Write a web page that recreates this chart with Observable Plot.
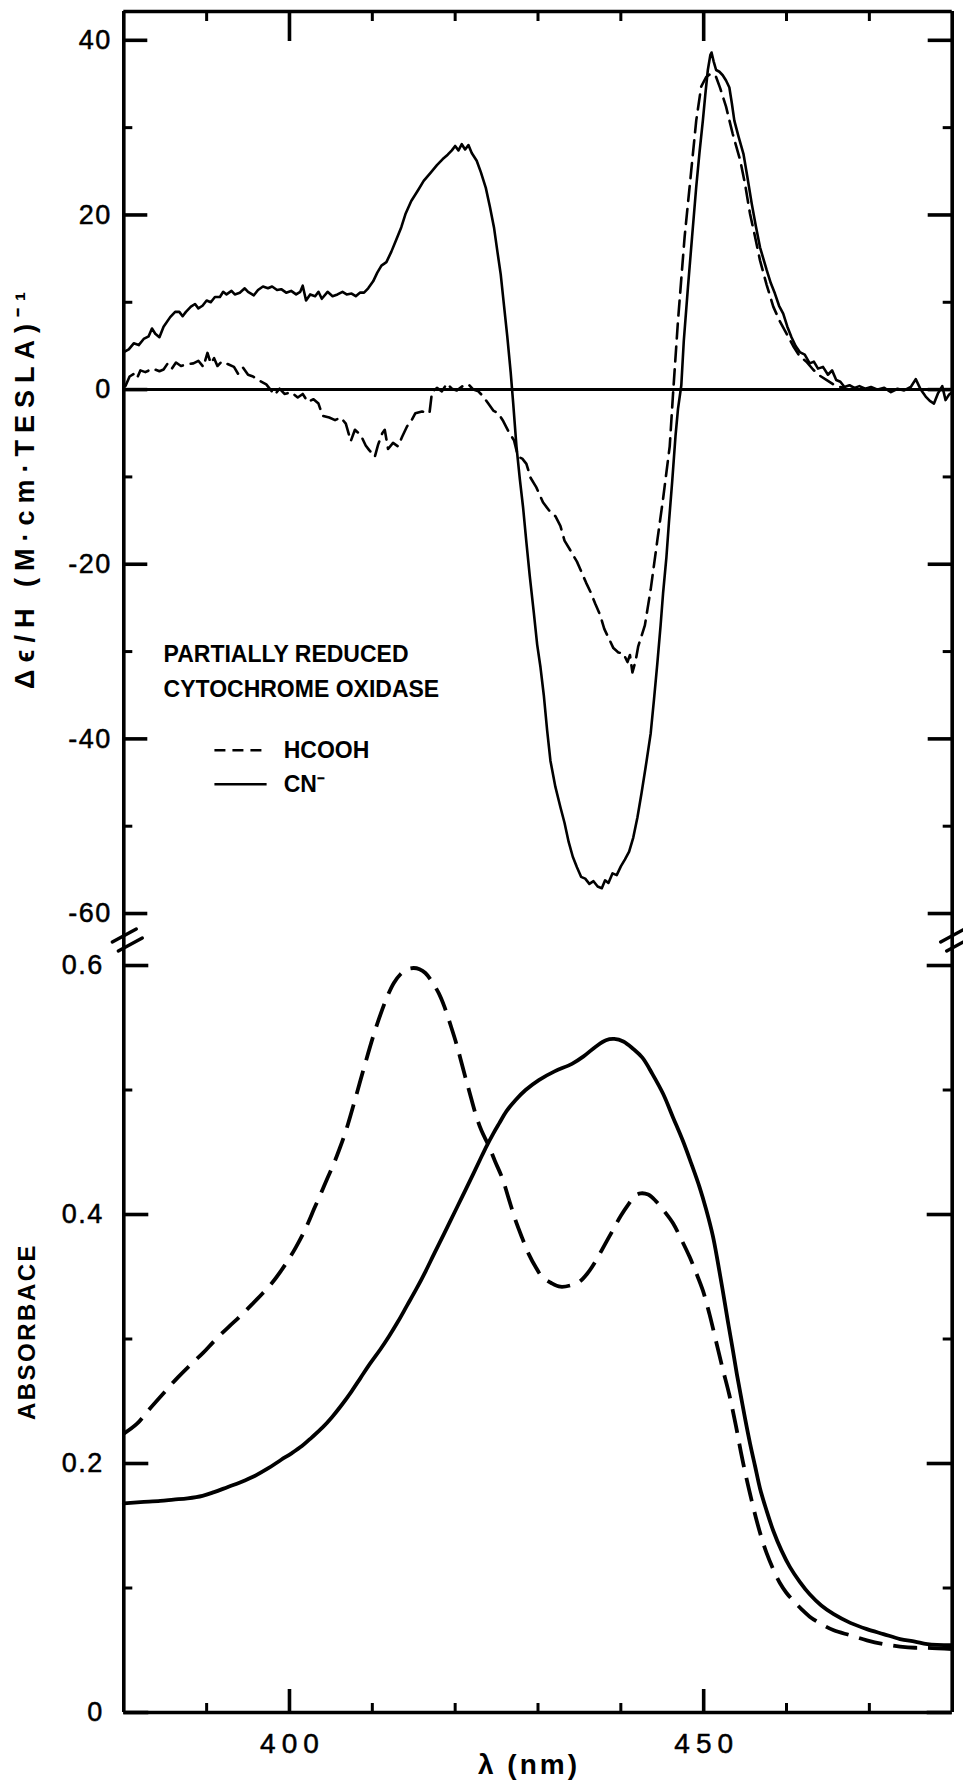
<!DOCTYPE html>
<html>
<head>
<meta charset="utf-8">
<script src="https://cdn.jsdelivr.net/npm/d3@7"></script>
<script src="https://cdn.jsdelivr.net/npm/@observablehq/plot@0.6"></script>
<style>
  html, body { margin: 0; padding: 0; background: #fff; }
  #chart { position: relative; width: 963px; height: 1787px; background: #fff; }
  #chart svg { position: absolute; left: 0; overflow: visible; }
</style>
</head>
<body>
<div id="chart"></div>
<script>
// ---- MCD spectra, Δϵ/H (M·cm·TESLA)^-1 vs wavelength (nm) ----
const mcdCN = [
  [380.0, 4.3], [380.6, 4.6], [381.2, 5.3], [381.8, 5.1], [382.4, 5.8], [383.0, 6.1],
  [383.4, 7.0], [383.8, 6.4], [384.3, 6.0], [384.8, 7.2], [385.6, 8.3], [386.2, 8.9],
  [386.7, 8.9], [387.1, 8.4], [387.5, 8.9], [388.1, 9.5], [388.6, 9.8], [389.0, 9.3],
  [389.5, 9.6], [390.0, 10.2], [390.5, 10.0], [391.0, 10.6], [391.6, 10.6], [392.0, 11.2],
  [392.4, 10.9], [393.0, 11.3], [393.4, 10.9], [394.0, 11.1], [394.6, 11.6], [395.0, 11.2],
  [395.7, 10.8], [396.2, 11.4], [396.8, 11.8], [397.4, 11.6], [397.9, 11.8], [398.5, 11.4],
  [399.0, 11.5], [399.6, 11.1], [400.2, 11.3], [400.8, 10.9], [401.3, 11.2], [401.6, 11.9],
  [402.0, 10.2], [402.5, 10.9], [403.1, 10.7], [403.5, 11.2], [403.9, 10.4], [404.6, 11.2],
  [405.2, 10.7], [405.8, 10.9], [406.4, 11.2], [406.9, 10.9], [407.5, 11.0], [408.0, 10.7],
  [408.5, 11.1], [409.0, 11.1], [409.5, 11.6], [410.1, 12.4], [410.6, 13.4], [411.1, 14.2],
  [411.7, 14.6], [412.3, 15.8], [412.9, 17.2], [413.5, 18.6], [414.0, 20.1], [414.7, 21.6],
  [415.5, 22.8], [416.2, 23.9], [417.0, 24.8], [417.8, 25.7], [418.5, 26.4], [419.1, 26.9],
  [419.6, 27.4], [420.0, 27.9], [420.4, 27.4], [420.8, 28.1], [421.2, 27.5], [421.6, 28.0],
  [422.0, 27.1], [422.6, 26.2], [423.1, 24.9], [423.7, 23.1], [424.2, 20.9], [424.7, 18.5],
  [425.1, 15.8], [425.5, 13.2], [425.9, 9.6], [426.3, 6.0], [426.7, 2.0], [427.0, -1.5],
  [427.4, -6.5], [427.8, -10.2], [428.2, -13.5], [428.6, -17.5], [429.0, -21.3], [429.5, -25.6],
  [429.9, -29.2], [430.3, -31.8], [430.7, -35.0], [431.1, -39.0], [431.5, -42.5], [432.1, -45.5],
  [432.7, -47.8], [433.2, -49.6], [433.7, -51.8], [434.2, -53.5], [434.7, -54.7], [435.2, -55.8],
  [435.7, -56.0], [436.2, -56.6], [436.7, -56.3], [437.2, -56.9], [437.7, -57.1], [438.1, -56.2],
  [438.5, -56.5], [439.0, -55.4], [439.5, -55.6], [440.0, -54.6], [440.5, -53.8], [441.0, -52.9],
  [441.5, -51.3], [442.0, -49.0], [442.5, -46.2], [443.0, -43.2], [443.6, -39.4], [444.0, -35.5],
  [444.4, -31.4], [444.8, -27.0], [445.1, -23.3], [445.5, -19.2], [445.8, -15.3], [446.2, -10.5],
  [446.6, -5.3], [446.9, -2.2], [447.3, 0.5], [447.6, 5.6], [448.1, 11.7], [448.6, 17.5],
  [449.1, 23.2], [449.5, 27.2], [449.9, 30.8], [450.2, 33.8], [450.5, 36.6], [450.8, 38.3],
  [450.95, 38.6], [451.2, 37.6], [451.5, 36.6], [451.9, 36.4], [452.3, 36.0], [452.7, 35.4],
  [453.1, 34.6], [453.4, 32.8], [453.7, 30.8], [454.2, 29.0], [454.8, 27.0], [455.3, 24.2],
  [455.8, 21.3], [456.3, 18.7], [456.8, 16.3], [457.2, 15.0], [457.6, 13.7], [458.1, 12.2],
  [458.6, 11.0], [459.1, 9.6], [459.6, 8.7], [460.1, 7.2], [460.6, 6.0], [461.1, 5.0],
  [461.6, 4.3], [462.2, 4.0], [462.8, 3.0], [463.3, 3.2], [463.8, 2.4], [464.4, 2.6],
  [465.0, 1.7], [465.5, 2.2], [466.0, 1.1], [466.5, 0.9], [467.0, 0.3], [467.6, 0.5],
  [468.2, 0.2], [468.8, 0.4], [469.5, 0.1], [470.2, 0.3], [471.0, 0.0], [471.8, 0.2],
  [472.6, -0.3], [473.4, 0.1], [474.2, -0.1], [475.0, 0.3], [475.6, 1.2], [476.2, 0.0],
  [476.8, -0.8], [477.3, -1.3], [477.8, -1.6], [478.3, -0.4], [478.8, 0.4], [479.2, -1.2],
  [479.6, -0.6], [480.0, -0.3]
];

const mcdHCOOH = [
  [380.2, 0.4], [380.7, 1.5], [381.2, 1.8], [381.6, 1.3], [382.0, 2.2], [382.6, 2.0],
  [383.5, 2.4], [384.3, 2.1], [384.8, 2.3], [385.3, 3.0], [385.8, 2.4], [386.3, 3.1],
  [386.9, 2.7], [387.6, 2.9], [388.4, 3.0], [389.0, 3.3], [389.6, 2.6], [390.1, 4.2],
  [390.5, 3.0], [390.9, 3.6], [391.3, 2.7], [391.8, 3.2], [392.6, 2.9], [393.3, 2.6],
  [393.8, 1.8], [394.4, 2.5], [395.0, 1.7], [395.6, 1.5], [396.4, 1.0], [397.2, 0.6],
  [397.7, 0.0], [398.2, -0.6], [398.8, 0.1], [399.4, -0.5], [400.2, -0.3], [401.0, -0.9],
  [401.6, -0.5], [402.2, -1.4], [402.9, -1.1], [403.5, -1.6], [404.0, -3.0], [404.8, -3.2],
  [405.5, -3.5], [406.2, -3.2], [406.8, -3.9], [407.4, -5.9], [407.9, -4.6], [408.6, -5.2],
  [409.2, -6.4], [409.6, -6.9], [410.3, -7.7], [410.7, -6.3], [411.2, -5.0], [411.5, -4.6],
  [411.9, -6.8], [412.5, -6.1], [413.1, -6.5], [413.6, -5.4], [414.2, -4.2], [414.8, -3.4],
  [415.2, -2.7], [416.0, -2.5], [416.9, -2.7], [417.2, -0.3], [417.8, 0.2], [418.4, -0.2],
  [419.0, 0.7], [419.6, 0.1], [420.2, -0.1], [420.9, 0.4], [421.6, 0.6], [422.2, 0.0],
  [422.8, -0.2], [423.4, -0.8], [424.0, -1.6], [424.6, -2.4], [425.2, -2.7], [425.8, -3.6],
  [426.5, -4.9], [427.1, -5.8], [427.6, -7.7], [428.1, -7.9], [428.6, -8.5], [429.1, -10.1],
  [429.8, -11.2], [430.6, -12.9], [431.3, -13.8], [432.1, -14.5], [432.7, -15.6], [433.2, -17.3],
  [433.9, -18.4], [434.7, -19.7], [435.3, -21.0], [435.8, -22.1], [436.4, -23.3], [436.9, -24.5],
  [437.5, -25.8], [438.0, -27.4], [438.6, -28.6], [439.1, -29.6], [439.7, -30.1], [440.3, -30.2],
  [440.8, -31.2], [441.1, -30.4], [441.4, -32.4], [441.8, -31.0], [442.1, -29.4], [442.9, -27.0],
  [443.6, -22.9], [444.4, -17.3], [445.1, -12.5], [445.9, -6.5], [446.3, -0.5], [446.9, 7.9],
  [447.7, 17.5], [448.5, 25.1], [449.1, 30.8], [449.7, 34.7], [450.3, 35.8], [450.9, 36.2],
  [451.5, 35.8], [452.0, 34.5], [452.7, 32.4], [453.5, 29.3], [454.4, 26.3], [455.0, 23.5],
  [455.6, 20.1], [456.2, 17.5], [456.8, 14.8], [457.6, 12.0], [458.4, 9.5], [459.2, 7.8],
  [460.0, 6.4], [460.8, 5.0], [461.6, 3.8], [462.4, 3.2], [463.2, 2.3], [464.0, 1.6],
  [465.0, 1.0], [466.0, 0.4], [467.0, 0.2]
];

// ---- Absorbance spectra vs wavelength (nm) ----
const absHCOOH = [
  [380.0, 0.224], [381.6, 0.232], [383.0, 0.243], [385.0, 0.258], [386.5, 0.269], [388.0, 0.279],
  [389.6, 0.289], [391.0, 0.299], [392.7, 0.310], [394.0, 0.318], [395.5, 0.328], [396.8, 0.337],
  [398.0, 0.346], [399.0, 0.355], [400.0, 0.365], [400.8, 0.374], [401.6, 0.384], [402.3, 0.394],
  [403.0, 0.405], [403.8, 0.417], [404.5, 0.428], [405.3, 0.440], [406.0, 0.452], [406.8, 0.467],
  [407.9, 0.492], [409.0, 0.518], [410.1, 0.543], [411.0, 0.561], [411.8, 0.575], [412.6, 0.586],
  [413.4, 0.593], [414.2, 0.597], [415.0, 0.598], [415.7, 0.597], [416.4, 0.594], [417.2, 0.587],
  [418.0, 0.578], [418.7, 0.567], [419.5, 0.551], [420.2, 0.536], [421.0, 0.516], [421.7, 0.499],
  [422.5, 0.480], [423.2, 0.467], [424.0, 0.456], [424.8, 0.443], [425.7, 0.429], [426.5, 0.412],
  [427.3, 0.395], [428.1, 0.381], [428.9, 0.368], [429.7, 0.358], [430.5, 0.350], [431.6, 0.345],
  [432.7, 0.342], [433.9, 0.343], [435.0, 0.346], [436.0, 0.353], [437.0, 0.363], [438.0, 0.375],
  [439.0, 0.387], [440.0, 0.399], [441.0, 0.409], [441.7, 0.415], [442.4, 0.417], [443.3, 0.416],
  [444.2, 0.411], [445.2, 0.403], [446.3, 0.393], [447.3, 0.380], [448.3, 0.366], [449.1, 0.353],
  [449.9, 0.339], [450.7, 0.320], [451.5, 0.298], [452.3, 0.276], [453.1, 0.255], [453.9, 0.230],
  [454.5, 0.209], [455.2, 0.187], [455.8, 0.170], [456.4, 0.154], [457.0, 0.140], [457.6, 0.128],
  [458.4, 0.115], [459.2, 0.104], [460.0, 0.096], [460.8, 0.090], [461.8, 0.083], [462.8, 0.077],
  [464.2, 0.071], [465.7, 0.066], [467.7, 0.062], [469.7, 0.058], [471.7, 0.055], [473.7, 0.053],
  [475.5, 0.052], [477.0, 0.052], [480.0, 0.051]
];

const absCN = [
  [380.0, 0.168], [382.0, 0.169], [384.4, 0.170], [386.0, 0.171], [387.7, 0.172], [389.5, 0.174],
  [390.9, 0.177], [392.5, 0.181], [394.1, 0.185], [395.8, 0.190], [397.4, 0.196], [399.0, 0.203],
  [400.2, 0.208], [401.5, 0.214], [402.7, 0.221], [404.0, 0.229], [405.1, 0.237], [406.3, 0.247],
  [407.5, 0.258], [408.6, 0.269], [409.7, 0.280], [411.0, 0.292], [412.0, 0.302], [413.1, 0.314],
  [414.2, 0.327], [415.3, 0.340], [416.4, 0.354], [417.5, 0.369], [418.7, 0.385], [419.8, 0.400],
  [420.9, 0.415], [422.0, 0.430], [423.0, 0.444], [423.8, 0.455], [424.6, 0.465], [425.3, 0.473],
  [426.2, 0.483], [427.3, 0.492], [428.5, 0.500], [430.1, 0.508], [432.0, 0.515], [434.1, 0.521],
  [435.5, 0.527], [437.0, 0.535], [438.2, 0.540], [439.2, 0.541], [440.3, 0.539], [441.5, 0.533],
  [442.6, 0.526], [443.8, 0.513], [445.1, 0.497], [446.3, 0.478], [447.5, 0.459], [448.5, 0.441],
  [449.5, 0.422], [450.3, 0.404], [451.1, 0.383], [451.7, 0.362], [452.3, 0.339], [452.9, 0.315],
  [453.5, 0.292], [454.0, 0.272], [454.5, 0.254], [455.0, 0.236], [455.6, 0.216], [456.2, 0.198],
  [456.8, 0.180], [457.6, 0.162], [458.4, 0.146], [459.4, 0.130], [460.4, 0.117], [461.6, 0.105],
  [462.8, 0.095], [464.2, 0.086], [465.7, 0.079], [467.7, 0.072], [469.7, 0.067], [471.7, 0.063],
  [473.7, 0.059], [475.5, 0.057], [477.0, 0.055], [480.0, 0.054]
];

// ---- Axis ticks and labels ----
const wlTicksMinor = [390, 410, 420, 430, 440, 460, 470];
const wlTicksMajor = [400, 450];
const wlLabels = [400, 450];
const mcdTicksMajor = [40, 20, 0, -20, -40, -60];
const mcdTicksMinor = [30, 10, -10, -30, -50];
const mcdLabels = [40, 20, 0, -20, -40, -60];
const absTicksMajor = [0.6, 0.4, 0.2, 0];
const absTicksMinor = [0.5, 0.3, 0.1];
const absLabels = [0.6, 0.4, 0.2, 0];

const sampleNote = ["PARTIALLY REDUCED", "CYTOCHROME OXIDASE"];
const legendRows = [
  {label: "HCOOH", dash: "11,7"},
  {label: "CN\u207B", dash: null}
];

const yTitleTop = "\u0394\u03F5/H (M\u00B7cm\u00B7TESLA)\u207B\u00B9";
const yTitleBottom = "ABSORBACE";
const xTitle = "\u03BB (nm)";

// ---- Layout ----
const W = 963;
const mLeft = 123.3, mRight = 11.3;
const innerW = W - mLeft - mRight;
const topH = 940, topMT = 11, topMB = 2;
const topInnerH = topH - topMT - topMB;
const botTop = 938, botH = 1787 - 938, botMB = 75;
const botInnerH = botH - botMB;
const FONT = "'Liberation Sans', Arial, Helvetica, sans-serif";
const frameW = 3.6;

const xy = {x: d => d[0], y: d => d[1]};

function sideTicks(values, len, sw) {
  return [
    Plot.tickY(values, {y: d => d, insetRight: innerW - len, strokeWidth: sw, stroke: "black"}),
    Plot.tickY(values, {y: d => d, insetLeft: innerW - len, strokeWidth: sw, stroke: "black"})
  ];
}

const topPlot = Plot.plot({
  width: W, height: topH,
  marginLeft: mLeft, marginRight: mRight, marginTop: topMT, marginBottom: topMB,
  x: {domain: [380, 480], axis: null},
  y: {domain: [-62.86, 43.3], axis: null},
  style: {fontFamily: FONT, background: "white", color: "black", overflow: "visible"},
  marks: [
    Plot.ruleY([0], {stroke: "black", strokeWidth: 3}),
    Plot.ruleX([380, 480], {stroke: "black", strokeWidth: frameW}),
    Plot.ruleY([43.3], {stroke: "black", strokeWidth: frameW}),
    ...sideTicks(mcdTicksMajor, 24, 3.6),
    ...sideTicks(mcdTicksMinor, 9, 3),
    Plot.tickX(wlTicksMajor, {x: d => d, insetBottom: topInnerH - 30, strokeWidth: 3.6, stroke: "black"}),
    Plot.tickX(wlTicksMinor, {x: d => d, insetBottom: topInnerH - 10, strokeWidth: 3, stroke: "black"}),
    Plot.line(mcdHCOOH, {...xy, stroke: "black", strokeWidth: 2.6, strokeDasharray: "15,8"}),
    Plot.line(mcdCN, {...xy, stroke: "black", strokeWidth: 2.6}),
    Plot.text(mcdLabels, {
      y: d => d, frameAnchor: "left", textAnchor: "end", dx: -12,
      text: d => String(d), fontSize: 27, stroke: "black", strokeWidth: 0.5, fill: "black"
    }),
    Plot.text([yTitleTop], {
      frameAnchor: "left", rotate: -90, dx: -98, dy: 12, textAnchor: "middle",
      fontSize: 27, fontWeight: "bold", fill: "black"
    }),
    Plot.text([sampleNote.join("\n")], {
      x: 384.8, y: -31.9, textAnchor: "start", lineAnchor: "middle", lineHeight: 1.54,
      fontSize: 23, fontWeight: "bold", fill: "black"
    }),
    Plot.ruleY([legendRows[0]], {y: -41.3, x1: 391.0, x2: 397.3, stroke: "black", strokeWidth: 2.6, strokeDasharray: legendRows[0].dash}),
    Plot.ruleY([legendRows[1]], {y: -45.2, x1: 391.0, x2: 397.3, stroke: "black", strokeWidth: 2.6}),
    Plot.text(legendRows, {
      x: 399.3, y: (d, i) => -41.4 - 3.8 * i, text: "label", textAnchor: "start",
      fontSize: 23, fontWeight: "bold", fill: "black"
    })
  ]
});

const botPlot = Plot.plot({
  width: W, height: botH,
  marginLeft: mLeft, marginRight: mRight, marginTop: 0, marginBottom: botMB,
  x: {domain: [380, 480], axis: null},
  y: {domain: [0, 0.6217], axis: null},
  style: {fontFamily: FONT, background: "transparent", color: "black", overflow: "visible"},
  marks: [
    Plot.ruleX([380, 480], {stroke: "black", strokeWidth: frameW}),
    Plot.ruleY([0], {stroke: "black", strokeWidth: frameW}),
    ...sideTicks(absTicksMajor, 25, 3.6),
    ...sideTicks(absTicksMinor, 9, 3),
    Plot.tickX(wlTicksMajor, {x: d => d, insetTop: botInnerH - 23, strokeWidth: 3.6, stroke: "black"}),
    Plot.tickX(wlTicksMinor, {x: d => d, insetTop: botInnerH - 9, strokeWidth: 3, stroke: "black"}),
    Plot.line(absHCOOH, {...xy, stroke: "black", strokeWidth: 3.8, strokeDasharray: "24,11", strokeLinecap: "butt", curve: "catmull-rom"}),
    Plot.line(absCN, {...xy, stroke: "black", strokeWidth: 3.8, curve: "catmull-rom"}),
    Plot.text(absLabels, {
      y: d => d, frameAnchor: "left", textAnchor: "end", dx: -20,
      text: d => String(d), fontSize: 27, stroke: "black", strokeWidth: 0.5, fill: "black"
    }),
    Plot.text(wlLabels, {
      x: d => d, frameAnchor: "bottom", lineAnchor: "top", dy: 21, dx: 3,
      text: d => String(d), fontSize: 28, stroke: "black", strokeWidth: 0.5, fill: "black"
    }),
    Plot.text([yTitleBottom], {
      frameAnchor: "left", rotate: -90, dx: -96, dy: 6, textAnchor: "middle",
      fontSize: 24, fontWeight: "bold", fill: "black"
    }),
    Plot.text([xTitle], {
      frameAnchor: "bottom", dx: -9, dy: 53, textAnchor: "middle", lineAnchor: "middle",
      fontSize: 28, fontWeight: "bold", fill: "black"
    })
  ]
});

topPlot.style.top = "0px";
botPlot.style.top = botTop + "px";
const chart = document.getElementById("chart");
chart.appendChild(topPlot);
chart.appendChild(botPlot);

// letter spacing of the hand-lettered labels, picked out by their text
function spaceText(svg, labels, px) {
  const wanted = new Set(labels.map(String));
  d3.select(svg).selectAll("text")
    .filter(function() { return wanted.has(this.textContent); })
    .attr("letter-spacing", px)
    .style("letter-spacing", px + "px");
}
spaceText(topPlot, mcdLabels, 1.5);
spaceText(botPlot, absLabels, 1.5);
spaceText(botPlot, wlLabels, 6);
spaceText(topPlot, [yTitleTop], 7);
spaceText(botPlot, [yTitleBottom], 2.5);
spaceText(botPlot, [xTitle], 3);

// axis-break marks where the two panels meet
const sx = topPlot.scale("x"), sy = topPlot.scale("y");
const yb = sy.apply(-62.86);
const breaks = d3.select(topPlot).append("g").attr("stroke", "black").attr("stroke-width", 3.4).attr("stroke-linecap", "round");
for (const xv of [380, 480]) {
  const x0 = sx.apply(xv);
  breaks.append("line").attr("x1", x0 - 11).attr("y1", yb + 4).attr("x2", x0 + 13).attr("y2", yb - 9);
  breaks.append("line").attr("x1", x0 - 5).attr("y1", yb + 13).attr("x2", x0 + 19).attr("y2", yb - 0);
}
</script>
</body>
</html>
